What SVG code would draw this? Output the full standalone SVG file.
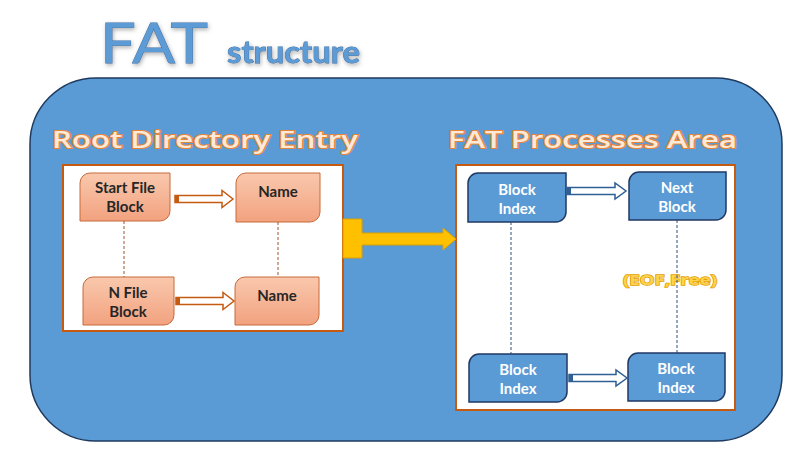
<svg xmlns="http://www.w3.org/2000/svg" width="810" height="466" viewBox="0 0 810 466">
  <defs>
    <style>
      .title { font-family: Lato, "Open Sans", "Liberation Sans", sans-serif; fill: #5b9bd5; stroke: #3a6fa5; stroke-width: 0.8; paint-order: stroke; }
      .heading { font-family: "Open Sans", Lato, "Liberation Sans", sans-serif; font-weight: 600; font-size: 24px; fill: #fde9d8; stroke: #e5853a; stroke-width: 2.2; paint-order: stroke; stroke-linejoin: round; }
      .panel { fill: #ffffff; stroke: #c55a11; stroke-width: 2; }
      .onode { fill: url(#salmon); stroke: #c86a3a; stroke-width: 1; }
      .bnode { fill: #5b9bd5; stroke: #1f3864; stroke-width: 1.5; }
      .otext { font-family: Lato, "Open Sans", "Liberation Sans", sans-serif; font-weight: 700; font-size: 15px; fill: #262626; text-anchor: middle; }
      .btext { font-family: Lato, "Open Sans", "Liberation Sans", sans-serif; font-weight: 700; font-size: 15px; fill: #ffffff; text-anchor: middle; }
      .oarrow { fill: #ffffff; stroke: #c55a11; stroke-width: 1.5; stroke-linejoin: miter; }
      .barrow { fill: #ffffff; stroke: #2e5f95; stroke-width: 1.5; stroke-linejoin: miter; }
      .otail { fill: #c55a11; }
      .btail { fill: #2e5f95; }
      .odash { stroke: #a0522d; stroke-width: 1; stroke-dasharray: 3 2; fill: none; }
      .bdash { stroke: #2f4f7a; stroke-width: 1; stroke-dasharray: 3 2; fill: none; }
      .link { fill: #ffc000; stroke: #d9a000; stroke-width: 1; }
      .eof { font-family: "Open Sans", Lato, "Liberation Sans", sans-serif; font-weight: 700; font-size: 15px; fill: #ffd24d; stroke: #e0a000; stroke-width: 1.4; paint-order: stroke; text-anchor: middle; }
    </style>
    <linearGradient id="salmon" x1="0" y1="0" x2="0" y2="1">
      <stop offset="0" stop-color="#f9c8ad"/>
      <stop offset="1" stop-color="#f2a27f"/>
    </linearGradient>
    <filter id="soft" x="-10%" y="-20%" width="120%" height="150%">
      <feDropShadow dx="1" dy="2" stdDeviation="2" flood-color="#7f7f7f" flood-opacity="0.6"/>
    </filter>
  </defs>

  <!-- page title -->
  <g id="title" filter="url(#soft)">
    <text class="title" x="100" y="63" font-size="56" textLength="108" lengthAdjust="spacingAndGlyphs">FAT</text>
    <text class="title" x="227" y="63" font-size="30" font-weight="700" textLength="133" lengthAdjust="spacingAndGlyphs">structure</text>
  </g>

  <!-- blue background panel -->
  <g id="frame">
    <rect x="30" y="78" width="752" height="363" rx="66" ry="66" fill="#5b9bd5" stroke="#1f3a5f" stroke-width="1.5"/>
  </g>

  <!-- section headings -->
  <g id="heading-root">
    <text class="heading" x="52" y="148" textLength="306" lengthAdjust="spacingAndGlyphs">Root Directory Entry</text>
  </g>
  <g id="heading-fat">
    <text class="heading" x="448" y="148" textLength="289" lengthAdjust="spacingAndGlyphs">FAT Processes Area</text>
  </g>

  <!-- section panels -->
  <g id="root-area">
    <rect class="panel" x="63" y="165" width="280" height="166"/>
  </g>
  <g id="fat-area">
    <rect class="panel" x="456" y="165" width="279" height="245"/>
  </g>

  <!-- root directory entries -->
  <g id="start-file-block">
    <path class="onode" d="M90,173 H170 V211 A10,10 0 0 1 160,221 H80 V183 A10,10 0 0 1 90,173 Z"/>
    <text class="otext" x="125" y="193">Start File</text>
    <text class="otext" x="125" y="212">Block</text>
  </g>
  <g id="name-top">
    <path class="onode" d="M246,173 H320 V212 A10,10 0 0 1 310,222 H236 V183 A10,10 0 0 1 246,173 Z"/>
    <text class="otext" x="278" y="197">Name</text>
  </g>
  <g id="n-file-block">
    <path class="onode" d="M93,277 H174 V315 A10,10 0 0 1 164,325 H83 V287 A10,10 0 0 1 93,277 Z"/>
    <text class="otext" x="128" y="298">N File</text>
    <text class="otext" x="128" y="317">Block</text>
  </g>
  <g id="name-bottom">
    <path class="onode" d="M245,277 H319 V315 A10,10 0 0 1 309,325 H235 V287 A10,10 0 0 1 245,277 Z"/>
    <text class="otext" x="277" y="301">Name</text>
  </g>

  <!-- FAT entries -->
  <g id="block-index-top">
    <path class="bnode" d="M478,173 H566 V212 A10,10 0 0 1 556,222 H468 V183 A10,10 0 0 1 478,173 Z"/>
    <text class="btext" x="517" y="195">Block</text>
    <text class="btext" x="517" y="214">Index</text>
  </g>
  <g id="next-block">
    <path class="bnode" d="M639,172 H726 V210 A10,10 0 0 1 716,220 H629 V182 A10,10 0 0 1 639,172 Z"/>
    <text class="btext" x="677" y="193">Next</text>
    <text class="btext" x="677" y="212">Block</text>
  </g>
  <g id="block-index-bottom-left">
    <path class="bnode" d="M479,354 H567 V392 A10,10 0 0 1 557,402 H469 V364 A10,10 0 0 1 479,354 Z"/>
    <text class="btext" x="518" y="375">Block</text>
    <text class="btext" x="518" y="394">Index</text>
  </g>
  <g id="block-index-bottom-right">
    <path class="bnode" d="M638,353 H725 V391 A10,10 0 0 1 715,401 H628 V363 A10,10 0 0 1 638,353 Z"/>
    <text class="btext" x="676" y="374">Block</text>
    <text class="btext" x="676" y="393">Index</text>
  </g>

  <g id="eof-label">
    <text class="eof" x="670" y="285" textLength="94" lengthAdjust="spacingAndGlyphs">(EOF,Free)</text>
  </g>

  <!-- connectors -->
  <g id="connectors">
    <!-- dotted chains -->
    <line class="odash" x1="124" y1="221" x2="124" y2="277"/>
    <line class="odash" x1="278" y1="222" x2="278" y2="277"/>
    <line class="bdash" x1="511" y1="222" x2="511" y2="354"/>
    <line class="bdash" x1="677" y1="220" x2="677" y2="353"/>

    <!-- hollow block arrows, root area -->
    <path class="oarrow" d="M175,195.5 H222 V190.5 L233,199 L222,207.5 V202.5 H175 Z"/>
    <rect class="otail" x="175" y="195.5" width="4" height="7"/>
    <path class="oarrow" d="M176,297.5 H223 V292.5 L234,301 L223,309.5 V304.5 H176 Z"/>
    <rect class="otail" x="176" y="297.5" width="4" height="7"/>

    <!-- hollow block arrows, FAT area -->
    <path class="barrow" d="M567,187.5 H615 V183 L626,191 L615,199 V194.5 H567 Z"/>
    <rect class="btail" x="567" y="187.5" width="4" height="7"/>
    <path class="barrow" d="M569,374.5 H616 V370 L627,378 L616,386 V381.5 H569 Z"/>
    <rect class="btail" x="569" y="374.5" width="4" height="7"/>

    <!-- link between the two areas -->
    <path class="link" d="M343,219 H362 V233 H443 V228 L456,239 L443,250 V245 H362 V258 H343 Z"/>
  </g>
</svg>
